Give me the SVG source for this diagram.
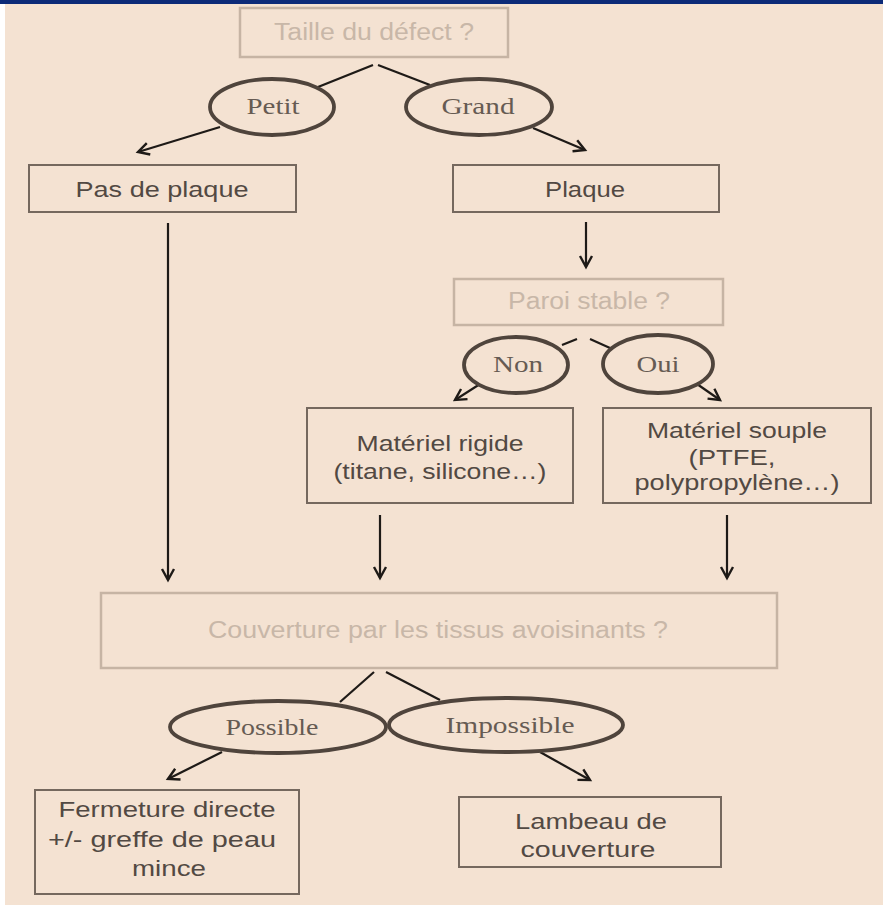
<svg xmlns="http://www.w3.org/2000/svg" width="883" height="907" viewBox="0 0 883 907">
<style>
.bg{fill:#f4e2d2}
.box{fill:none;stroke:#75685e;stroke-width:2}
.fbox{fill:none;stroke:#c6b4a4;stroke-width:2.5}
.t{font-family:"Liberation Sans",Arial,sans-serif;font-size:22px;fill:#524943;text-anchor:middle}
.ft{font-family:"Liberation Sans",Arial,sans-serif;font-size:23px;fill:#c8b7a8;text-anchor:middle}
.el{fill:none;stroke:#4f443c;stroke-width:3.8}
.et{font-family:"Liberation Serif","Times New Roman",serif;font-size:24px;fill:#665b53;text-anchor:middle}
.ln{fill:none;stroke:#1e1a17;stroke-width:2.2}
</style>
<defs>
<marker id="ah" markerUnits="userSpaceOnUse" markerWidth="16" markerHeight="16" refX="13" refY="8" orient="auto">
<path d="M2,2 L13,8 L2,14" fill="none" stroke="#1e1a17" stroke-width="2.4"/>
</marker>
</defs>
<rect x="0" y="0" width="883" height="907" fill="#ffffff"/>
<rect class="bg" x="5" y="0" width="878" height="905"/>
<rect x="0" y="0" width="883" height="4" fill="#0c2a78"/>

<g id="connectors">
<path class="ln" d="M318,87 L373,65"/>
<path class="ln" d="M378,65 L430,85"/>
<path class="ln" d="M220,127 L138,152" marker-end="url(#ah)"/>
<path class="ln" d="M533,128 L585,150" marker-end="url(#ah)"/>
<path class="ln" d="M586,222 L586,267" marker-end="url(#ah)"/>
<path class="ln" d="M168,223 L168,580" marker-end="url(#ah)"/>
<path class="ln" d="M562,345 L577,339"/>
<path class="ln" d="M590,339 L610,348"/>
<path class="ln" d="M480,384 L455,400" marker-end="url(#ah)"/>
<path class="ln" d="M697,384 L720,400" marker-end="url(#ah)"/>
<path class="ln" d="M380,515 L380,578" marker-end="url(#ah)"/>
<path class="ln" d="M727,515 L727,578" marker-end="url(#ah)"/>
<path class="ln" d="M340,702 L374,672"/>
<path class="ln" d="M386,672 L440,700"/>
<path class="ln" d="M222,752 L168,779" marker-end="url(#ah)"/>
<path class="ln" d="M540,752 L590,780" marker-end="url(#ah)"/>
</g>

<g id="n-taille">
<rect class="fbox" x="240" y="8" width="268" height="49"/>
<text class="ft" x="374" y="40" textLength="200" lengthAdjust="spacingAndGlyphs">Taille du défect ?</text>
</g>
<g id="n-petit">
<ellipse class="el" cx="272" cy="107" rx="62" ry="28"/>
<text class="et" x="273" y="114" textLength="53" lengthAdjust="spacingAndGlyphs">Petit</text>
</g>
<g id="n-grand">
<ellipse class="el" cx="479" cy="107" rx="73" ry="28"/>
<text class="et" x="478" y="114" textLength="73" lengthAdjust="spacingAndGlyphs">Grand</text>
</g>
<g id="n-pasdeplaque">
<rect class="box" x="29" y="165" width="267" height="47"/>
<text class="t" x="162" y="197" textLength="173" lengthAdjust="spacingAndGlyphs">Pas de plaque</text>
</g>
<g id="n-plaque">
<rect class="box" x="453" y="165" width="266" height="47"/>
<text class="t" x="585" y="197" textLength="80" lengthAdjust="spacingAndGlyphs">Plaque</text>
</g>
<g id="n-paroi">
<rect class="fbox" x="454" y="279" width="269" height="46"/>
<text class="ft" x="589" y="309" textLength="162" lengthAdjust="spacingAndGlyphs">Paroi stable ?</text>
</g>
<g id="n-non">
<ellipse class="el" cx="516" cy="365" rx="52" ry="28"/>
<text class="et" x="518" y="372" textLength="50" lengthAdjust="spacingAndGlyphs">Non</text>
</g>
<g id="n-oui">
<ellipse class="el" cx="658" cy="364" rx="55" ry="29"/>
<text class="et" x="658" y="372" textLength="43" lengthAdjust="spacingAndGlyphs">Oui</text>
</g>
<g id="n-rigide">
<rect class="box" x="307" y="408" width="266" height="95"/>
<text class="t" x="440" y="451" textLength="167" lengthAdjust="spacingAndGlyphs">Matériel rigide</text>
<text class="t" x="440" y="479" textLength="213" lengthAdjust="spacingAndGlyphs">(titane, silicone…)</text>
</g>
<g id="n-souple">
<rect class="box" x="603" y="408" width="268" height="95"/>
<text class="t" x="737" y="438" textLength="180" lengthAdjust="spacingAndGlyphs">Matériel souple</text>
<text class="t" x="732" y="465" textLength="87" lengthAdjust="spacingAndGlyphs">(PTFE,</text>
<text class="t" x="737" y="490" textLength="205" lengthAdjust="spacingAndGlyphs">polypropylène…)</text>
</g>
<g id="n-couverture">
<rect class="fbox" x="101" y="593" width="676" height="75"/>
<text class="ft" x="438" y="638" textLength="460" lengthAdjust="spacingAndGlyphs">Couverture par les tissus avoisinants ?</text>
</g>
<g id="n-possible">
<ellipse class="el" cx="278" cy="727" rx="108" ry="26"/>
<text class="et" x="272" y="735" textLength="93" lengthAdjust="spacingAndGlyphs">Possible</text>
</g>
<g id="n-impossible">
<ellipse class="el" cx="506" cy="725" rx="117" ry="27"/>
<text class="et" x="510" y="733" textLength="129" lengthAdjust="spacingAndGlyphs">Impossible</text>
</g>
<g id="n-fermeture">
<rect class="box" x="35" y="790" width="264" height="104"/>
<text class="t" x="167" y="817" textLength="217" lengthAdjust="spacingAndGlyphs">Fermeture directe</text>
<text class="t" x="162" y="847" textLength="228" lengthAdjust="spacingAndGlyphs">+/- greffe de peau</text>
<text class="t" x="169" y="876" textLength="74" lengthAdjust="spacingAndGlyphs">mince</text>
</g>
<g id="n-lambeau">
<rect class="box" x="459" y="797" width="262" height="70"/>
<text class="t" x="591" y="829" textLength="152" lengthAdjust="spacingAndGlyphs">Lambeau de</text>
<text class="t" x="588" y="857" textLength="135" lengthAdjust="spacingAndGlyphs">couverture</text>
</g>
</svg>
